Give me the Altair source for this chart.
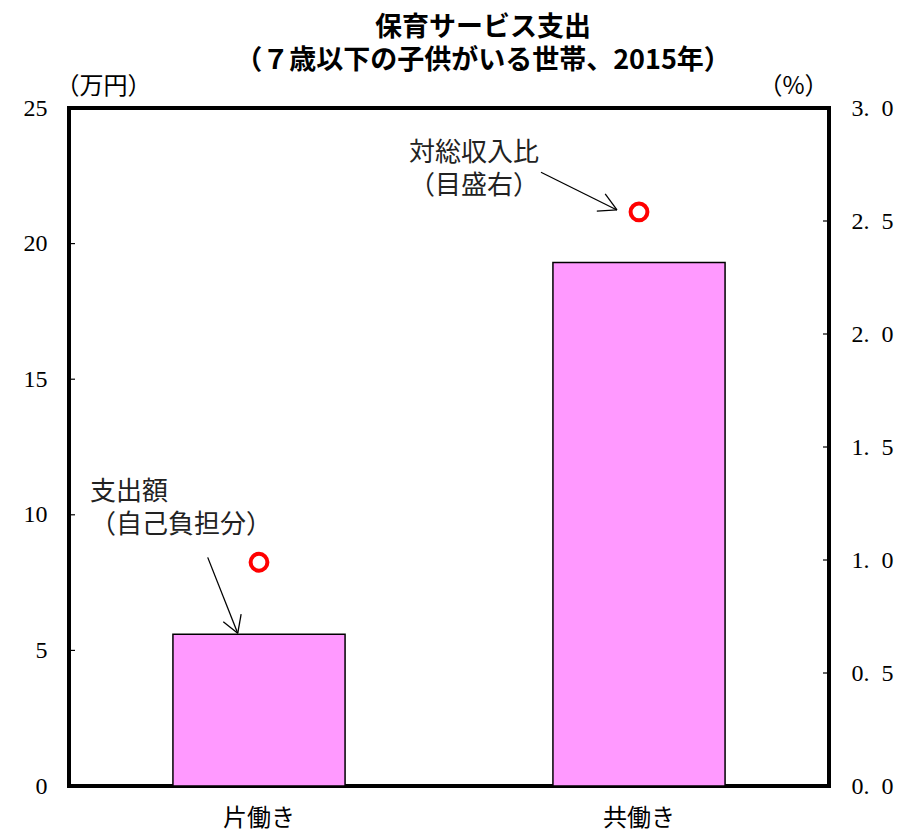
import altair as alt
import pandas as pd

# ---- data ----
categories = ["片働き", "共働き"]
spending = [5.6, 19.3]          # 支出額（自己負担分）, 万円 (left axis)
ratio = [0.99, 2.54]            # 対総収入比, % (right axis)
left_ticks = [0, 5, 10, 15, 20, 25]
right_ticks = [0.0, 0.5, 1.0, 1.5, 2.0, 2.5, 3.0]

# annotation texts (x in category units 0..2, y in 万円 units)
note_text = ["支出額", "（自己負担分）", "対総収入比", "（目盛右）"]
note_x = [0.055, 0.055, 0.895, 0.895]
note_y = [10.84, 9.62, 23.34, 22.12]

# arrow segments (shaft + two barbs each)
seg_x = [0.365, 0.444, 0.444, 1.242, 1.442, 1.442]
seg_y = [8.43, 5.63, 5.63, 22.63, 21.24, 21.24]
seg_x2 = [0.444, 0.406, 0.453, 1.442, 1.389, 1.411]
seg_y2 = [5.63, 6.06, 6.34, 21.24, 21.20, 21.83]

W, H = 760, 678
JP = "Noto Sans CJK JP"
SERIF = "Liberation Serif"

df = pd.DataFrame({"category": categories, "spending": spending, "ratio": ratio})
notes = pd.DataFrame({"text": note_text, "x": note_x, "y": note_y})
segs = pd.DataFrame({"x": seg_x, "y": seg_y, "x2": seg_x2, "y2": seg_y2})
lt = pd.DataFrame({"v": left_ticks})
rt = pd.DataFrame({"v": [t for t in right_ticks if t > 0]})

xband = alt.Scale(domain=categories, paddingInner=0, paddingOuter=0)
yleft = alt.Scale(domain=[0, 25], nice=False, zero=True)
yright = alt.Scale(domain=[0, 3], nice=False, zero=True)
xq = alt.Scale(domain=[0, 2], nice=False, zero=True)

bars = alt.Chart(df).mark_bar(
    width={"band": 0.453}, fill="#FF99FF", stroke="black", strokeWidth=1.5
).encode(
    x=alt.X("category:N", scale=xband, sort=categories,
            axis=alt.Axis(title=None, labelAngle=0, ticks=False, domain=False,
                          labelFont=JP, labelFontSize=24, labelPadding=20,
                          labelColor="black")),
    y=alt.Y("spending:Q", scale=yleft,
            axis=alt.Axis(values=left_ticks, title="（万円）", titleAngle=0,
                          titleAlign="left", titleBaseline="middle",
                          titleX=-14, titleY=-22, titleFont=JP, titleFontSize=24,
                          titleFontWeight="normal", titleColor="black",
                          ticks=False, domain=False, grid=False,
                          labelFont=SERIF, labelFontSize=24, labelPadding=22,
                          labelColor="black")),
)

points = alt.Chart(df).mark_point(
    shape="circle", filled=False, stroke="#FF0000", strokeWidth=4, size=283, opacity=1
).encode(
    x=alt.X("category:N", scale=xband, sort=categories, axis=None),
    y=alt.Y("ratio:Q", scale=yright,
            axis=alt.Axis(orient="right", values=right_ticks,
                          labelExpr="replace(format(datum.value, '.1f'), '.', '.\u2002')",
                          title="（%）", titleAngle=0, titleAlign="right",
                          titleBaseline="middle", titleX=-1, titleY=-22,
                          titleFont=JP, titleFontSize=24, titleFontWeight="normal",
                          titleColor="black",
                          ticks=False, domain=False, grid=False,
                          labelFont=SERIF, labelFontSize=24, labelPadding=22,
                          labelColor="black")),
)

lticks = alt.Chart(lt).mark_rule(color="black", strokeWidth=1.2).encode(
    y=alt.Y("v:Q", scale=yleft, axis=None),
    x=alt.value(0), x2=alt.value(6),
)
rticks = alt.Chart(rt).mark_rule(color="black", strokeWidth=1.2).encode(
    y=alt.Y("v:Q", scale=yright, axis=None),
    x=alt.value(W - 6), x2=alt.value(W),
)

arrows = alt.Chart(segs).mark_rule(color="black", strokeWidth=1.3).encode(
    x=alt.X("x:Q", scale=xq, axis=None),
    x2="x2:Q",
    y=alt.Y("y:Q", scale=yleft, axis=None),
    y2="y2:Q",
)

texts = alt.Chart(notes).mark_text(
    font=JP, fontSize=26, align="left", baseline="middle", color="#222222"
).encode(
    x=alt.X("x:Q", scale=xq, axis=None),
    y=alt.Y("y:Q", scale=yleft, axis=None),
    text="text:N",
)

chart = alt.layer(bars, points, lticks, rticks, arrows, texts).resolve_scale(
    x="independent", y="independent"
).properties(
    width=W, height=H,
    background="white",
    autosize=alt.AutoSizeParams(type="none"),
    padding={"left": 61, "top": 100, "right": 69, "bottom": 50},
    title=alt.Title(
        text=["保育サービス支出", "（７歳以下の子供がいる世帯、2015年）"],
        font=JP, fontSize=27, fontWeight="bold", lineHeight=33,
        anchor="middle", dx=34, offset=-1, color="black",
    ),
).configure_view(
    stroke="black", strokeWidth=4
)

chart.save("out.html", embed_options={"renderer": "svg", "actions": False})
